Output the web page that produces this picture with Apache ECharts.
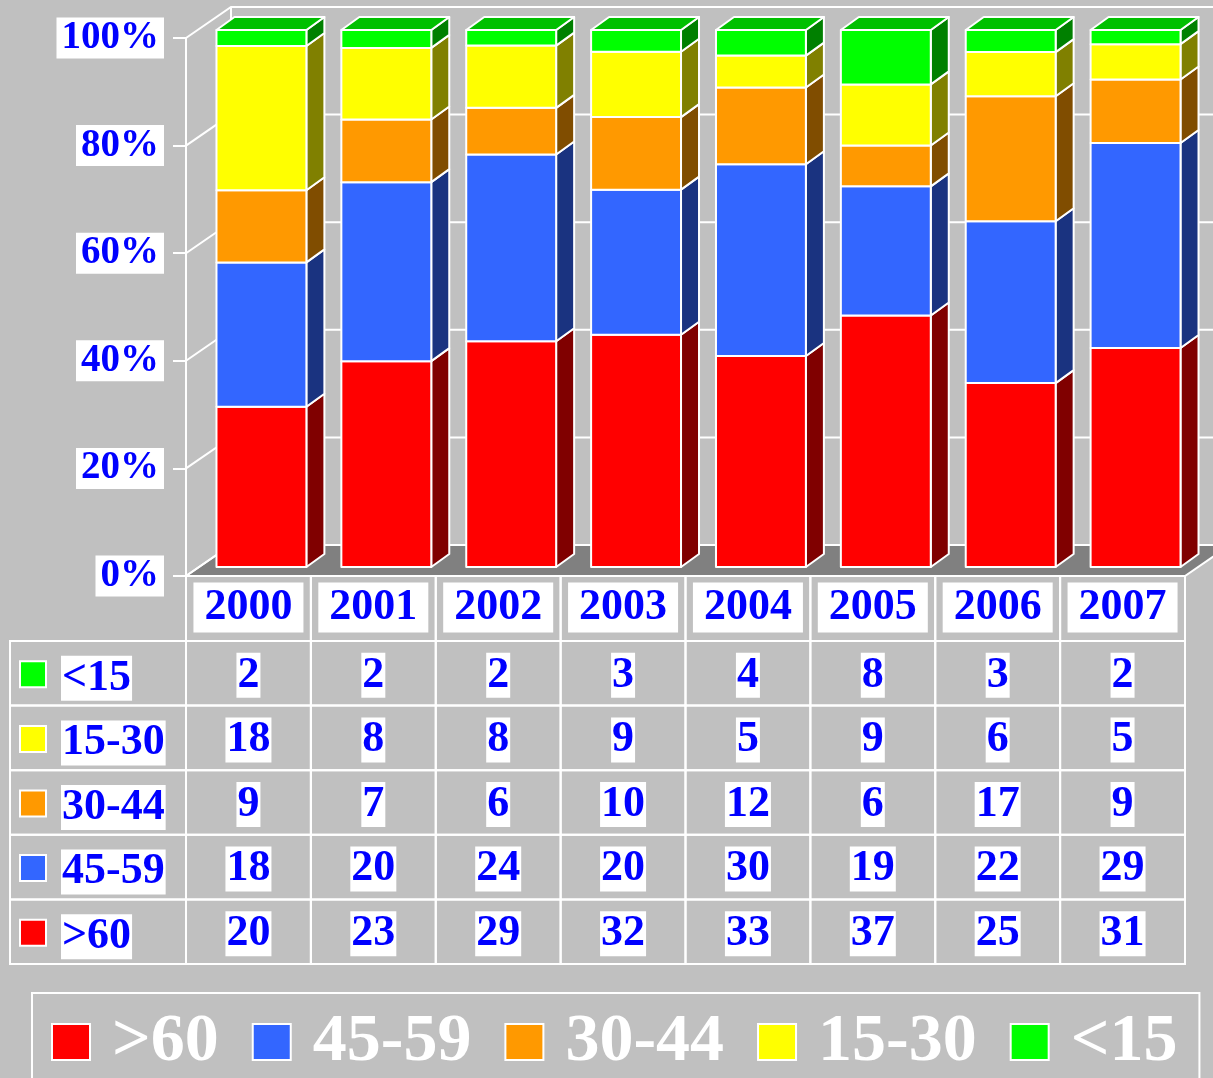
<!DOCTYPE html>
<html>
<head>
    <meta charset="utf-8">
    <title>Age groups by year</title>
    <style>
        html, body { margin: 0; padding: 0; background: #c0c0c0; }
        #chart { width: 1213px; height: 1078px; }
    </style>
</head>
<body>
<div id="chart"></div>
<script src="https://cdn.jsdelivr.net/npm/echarts@6/dist/echarts.min.js"></script>
<script type="text/javascript">
    // data
    var years = ['2000', '2001', '2002', '2003', '2004', '2005', '2006', '2007'];
    var groups = ['>60', '45-59', '30-44', '15-30', '<15'];   // stacked bottom -> top
    var over60 = [20, 23, 29, 32, 33, 37, 25, 31];
    var age4559 = [18, 20, 24, 20, 30, 19, 22, 29];
    var age3044 = [9, 7, 6, 10, 12, 6, 17, 9];
    var age1530 = [18, 8, 8, 9, 5, 9, 6, 5];
    var under15 = [2, 2, 2, 3, 4, 8, 3, 2];
    var yTicks = [0, 20, 40, 60, 80, 100];

    var values = [over60, age4559, age3044, age1530, under15];
    var faceColors = ['#ff0000', '#3366ff', '#ff9900', '#ffff00', '#00ff00'];
    var sideColors = ['#800000', '#1a3380', '#804d00', '#808000', '#008000'];
    var topColors = ['#c00000', '#264dc0', '#c07300', '#c0c000', '#00c000'];

    var BLUE = '#0000ff';
    var FONT = '"Liberation Serif", "Times New Roman", serif';
    var BACK = [45, -31];      // depth of the walls
    var DEPTH = [18, -13];     // depth of one bar
    var HEAD_H = 65, ROW_H = 64.6, LEFT_X = 10;

    // percentages for the stacked 100% bars
    var totals = years.map(function (y, i) {
        return values.reduce(function (s, arr) { return s + arr[i]; }, 0);
    });
    function stackData(k) {
        return years.map(function (y, i) {
            var below = 0;
            for (var j = 0; j < k; j++) below += values[j][i];
            var start = below / totals[i] * 100;
            var end = (below + values[k][i]) / totals[i] * 100;
            return [i, start, end, k === values.length - 1 ? 1 : 0];
        });
    }

    // walls, floor, grid lines
    function renderWalls(params, api) {
        var cs = params.coordSys;
        var v = api.value(1);
        var y = api.coord([0, v])[1];
        var x0 = cs.x;
        var children = [];
        if (v === 0) {
            var yb = cs.y + cs.height;
            children.push({
                type: 'polygon',
                shape: { points: [[x0, yb], [x0 + cs.width, yb], [x0 + cs.width + BACK[0], yb + BACK[1]], [x0 + BACK[0], yb + BACK[1]]] },
                style: { fill: '#808080', stroke: '#fff', lineWidth: 2 }
            });
            children.push({
                type: 'line',
                shape: { x1: x0 + BACK[0], y1: cs.y + BACK[1], x2: x0 + BACK[0], y2: yb + BACK[1] },
                style: { stroke: '#fff', lineWidth: 2 }
            });
        }
        children.push({
            type: 'polyline',
            shape: { points: [[x0, y], [x0 + BACK[0], y + BACK[1]], [x0 + cs.width + 200, y + BACK[1]]] },
            style: { stroke: '#fff', lineWidth: 2, fill: null }
        });
        return { type: 'group', children: children };
    }

    // one segment of a 3D bar
    function renderBar(params, api) {
        var k = params.seriesIndex - 1;
        var c = api.value(0);
        var p0 = api.coord([c, api.value(1)]);
        var p1 = api.coord([c, api.value(2)]);
        var w = api.size([1, 0])[0] * 0.72;
        var xl = p0[0] - w / 2, xr = p0[0] + w / 2;
        var line = { stroke: '#fff', lineWidth: 2, lineJoin: 'round' };
        var children = [{
            type: 'polygon',
            shape: { points: [[xr, p0[1]], [xr + DEPTH[0], p0[1] + DEPTH[1]], [xr + DEPTH[0], p1[1] + DEPTH[1]], [xr, p1[1]]] },
            style: Object.assign({ fill: sideColors[k] }, line)
        }, {
            type: 'rect',
            shape: { x: xl, y: p1[1], width: w, height: p0[1] - p1[1] },
            style: Object.assign({ fill: faceColors[k] }, line)
        }];
        if (api.value(3) === 1) {
            children.push({
                type: 'polygon',
                shape: { points: [[xl, p1[1]], [xl + DEPTH[0], p1[1] + DEPTH[1]], [xr + DEPTH[0], p1[1] + DEPTH[1]], [xr, p1[1]]] },
                style: Object.assign({ fill: topColors[k] }, line)
            });
        }
        return { type: 'group', children: children };
    }

    // data table under the chart
    var tableRows = groups.slice().reverse();
    function renderTable(params, api) {
        var cs = params.coordSys;
        var col = api.value(0), row = api.value(1);
        var bandW = api.size([1, 0])[0];
        var top = cs.y + cs.height;
        var y0 = row < 0 ? top : top + HEAD_H + row * ROW_H;
        var h = row < 0 ? HEAD_H : ROW_H;
        var x0, w, cx;
        if (col < 0) { x0 = LEFT_X; w = cs.x - LEFT_X; }
        else { cx = api.coord([col, 0])[0]; x0 = cx - bandW / 2; w = bandW; }
        var children = [{
            type: 'rect',
            shape: { x: x0, y: y0, width: w, height: h },
            style: { fill: null, stroke: '#fff', lineWidth: 2 }
        }];
        var txt = { fill: BLUE, fontFamily: FONT, fontWeight: 'bold', fontSize: 44, backgroundColor: '#fff', verticalAlign: 'middle' };
        if (row < 0) {
            children.push({
                type: 'text',
                style: Object.assign({ text: years[col], x: cx, y: y0 + h / 2 - 1, align: 'center', padding: [4, 11, 2, 11] }, txt)
            });
        } else if (col < 0) {
            var k = groups.indexOf(tableRows[row]);
            children.push({
                type: 'rect',
                shape: { x: x0 + 10, y: y0 + h / 2 - 12, width: 26, height: 26 },
                style: { fill: faceColors[k], stroke: '#fff', lineWidth: 2 }
            });
            children.push({
                type: 'text',
                style: Object.assign({ text: tableRows[row], x: x0 + 51, y: y0 + h / 2 + 5, align: 'left', padding: [1, 1, 0, 1] }, txt)
            });
        } else {
            var kk = groups.indexOf(tableRows[row]);
            children.push({
                type: 'text',
                style: Object.assign({ text: String(values[kk][col]), x: cx, y: y0 + h / 2 + 2, align: 'center', padding: [1, 1, 0, 1] }, txt)
            });
        }
        return { type: 'group', children: children };
    }

    var tableData = [];
    years.forEach(function (y, i) { tableData.push([i, -1]); });
    tableRows.forEach(function (g, r) {
        tableData.push([-1, r]);
        years.forEach(function (y, i) { tableData.push([i, r]); });
    });

    var series = [{
        type: 'custom',
        name: 'walls',
        xAxisIndex: 0, yAxisIndex: 0,
        renderItem: renderWalls,
        data: yTicks.map(function (v) { return [0, v]; }),
        z: 1, silent: true
    }];
    groups.forEach(function (g, k) {
        series.push({
            type: 'custom',
            name: g,
            xAxisIndex: 1, yAxisIndex: 1,
            renderItem: renderBar,
            itemStyle: { color: faceColors[k] },
            encode: { x: 0, y: [1, 2] },
            data: stackData(k),
            z: 2
        });
    });
    series.push({
        type: 'custom',
        name: 'table',
        xAxisIndex: 0, yAxisIndex: 0,
        renderItem: renderTable,
        data: tableData,
        z: 3, silent: true
    });

    var myChart = echarts.init(document.getElementById('chart'));
    myChart.setOption({
        backgroundColor: '#c0c0c0',
        animation: false,
        grid: [
            { left: 186, top: 38, width: 999, height: 538 },
            { left: 199, top: 30, width: 999, height: 537 }
        ],
        xAxis: [
            { type: 'category', data: years, gridIndex: 0, show: false },
            { type: 'category', data: years, gridIndex: 1, show: false }
        ],
        yAxis: [{
            type: 'value', gridIndex: 0, min: 0, max: 100, interval: 20,
            axisLine: { show: true, lineStyle: { color: '#fff', width: 2 } },
            axisTick: { show: true, length: 13, lineStyle: { color: '#fff', width: 2 } },
            splitLine: { show: false },
            axisLabel: {
                formatter: '{value}%', margin: 22,
                color: BLUE, fontFamily: FONT, fontWeight: 'bold', fontSize: 39,
                backgroundColor: '#fff', padding: [2, 5, 0, 5]
            }
        }, {
            type: 'value', gridIndex: 1, min: 0, max: 100, show: false
        }],
        legend: {
            data: groups,
            left: 32, top: 993,
            icon: 'rect',
            itemWidth: 38, itemHeight: 36, itemGap: 33,
            padding: [15, 22, 40, 19],
            borderColor: '#fff', borderWidth: 2,
            itemStyle: { borderColor: '#fff', borderWidth: 2 },
            textStyle: { color: '#fff', fontFamily: FONT, fontWeight: 'bold', fontSize: 68, padding: [0, 0, 0, 17] },
            selectedMode: false
        },
        series: series
    });
</script>
</body>
</html>
